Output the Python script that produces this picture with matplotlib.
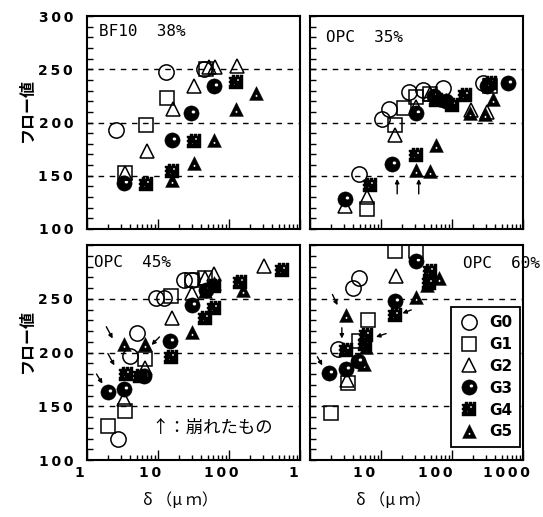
import numpy as np
import matplotlib
matplotlib.use("Agg")
import matplotlib.pyplot as plt
from matplotlib.path import Path
from matplotlib.markers import MarkerStyle
from matplotlib.lines import Line2D
from matplotlib.ticker import LogLocator, MultipleLocator, NullFormatter, FuncFormatter
from matplotlib.transforms import ScaledTranslation

plt.rcParams['font.family'] = ['DejaVu Sans', 'Noto Sans CJK JP']

# ---------------- data: delta (um) and flow value per group ----------------
# BF10 38%
BF38_G0_X = [2.6, 13, 45]
BF38_G0_Y = [193, 247, 250]
BF38_G1_X = [3.4, 6.7, 13.4, 48]
BF38_G1_Y = [153, 198, 223, 250]
BF38_G2_X = [3.4, 6.9, 16.5, 32.6, 52, 64.5, 130]
BF38_G2_Y = [153, 173.5, 213, 234, 252, 252, 253]
BF38_G3_X = [3.3, 16, 29.4, 62]
BF38_G3_Y = [143, 183.6, 209, 234]
BF38_G4_X = [6.8, 15.7, 32.6, 124]
BF38_G4_Y = [142, 154, 183, 238]
BF38_G5_X = [15.8, 32, 62, 124, 243]
BF38_G5_Y = [146, 162, 184, 213, 228]

# OPC 35%
OPC35_G0_X = [4.9, 10.4, 12.9, 25, 39, 75, 276]
OPC35_G0_Y = [152, 203, 213, 229, 230.5, 232, 237]
OPC35_G1_X = [6.3, 16, 21.4, 31.4, 48.5, 343]
OPC35_G1_Y = [119, 198, 214, 224, 227, 234]
OPC35_G2_X = [3.1, 6.3, 16, 31.4, 48.5, 185, 308]
OPC35_G2_Y = [121.5, 130, 188, 215, 227, 212, 210]
OPC35_G3_X = [3.1, 14.4, 30.7, 55, 83, 308, 624]
OPC35_G3_Y = [128, 161, 209, 225, 220, 234, 237]
OPC35_G4_X = [6.9, 31.4, 60, 100, 152, 343]
OPC35_G4_Y = [141, 169.5, 221, 216, 226, 237]
OPC35_G5_X = [31.4, 48.5, 59, 83, 178, 290, 383]
OPC35_G5_Y = [155, 154.5, 179, 221, 209, 208, 222]

# OPC 45%
OPC45_G0_X = [2.7, 5.1, 4.0, 9.5, 12.3, 23, 30]
OPC45_G0_Y = [120, 218, 197, 250.6, 250.6, 267, 267]
OPC45_G1_X = [2.0, 3.4, 6.6, 15.2, 30, 45.5]
OPC45_G1_Y = [132, 146, 194, 253, 267, 269.5]
OPC45_G2_X = [3.3, 6.6, 16.0, 30, 45.5, 62, 310]
OPC45_G2_Y = [157, 186, 232, 255, 269.5, 272.6, 280.5]
OPC45_G3_X = [2.0, 3.3, 6.4, 14.9, 30, 48]
OPC45_G3_Y = [163, 166, 178, 210.4, 244, 258.5]
OPC45_G4_X = [3.5, 5.6, 15.2, 45.5, 62, 62, 144, 563]
OPC45_G4_Y = [180, 178, 196, 232, 241, 261.7, 266, 277]
OPC45_G5_X = [3.3, 6.6, 30, 45.5, 62, 160]
OPC45_G5_Y = [208, 208, 219, 257, 264.8, 258.5]

# OPC 60%
OPC60_G0_X = [4.9, 4.0, 2.5]
OPC60_G0_Y = [269.5, 260, 203]
OPC60_G1_X = [1.96, 16, 31.4, 6.5, 4.9, 3.4]
OPC60_G1_Y = [143.8, 294.7, 294.7, 230, 211, 172]
OPC60_G2_X = [3.3, 16.3]
OPC60_G2_Y = [174, 271]
OPC60_G3_X = [1.86, 3.2, 4.8, 15.5, 30.7]
OPC60_G3_Y = [181, 185, 192.5, 247.5, 285.3]
OPC60_G4_X = [3.2, 6.1, 6.0, 15.5, 48.5, 47]
OPC60_G4_Y = [202, 216, 208, 235, 275.8, 264.8]
OPC60_G5_X = [3.2, 5.8, 6.1, 31.4, 44.5, 65.6]
OPC60_G5_Y = [235, 189, 205, 252, 263, 269.5]

GROUPS = ['G0', 'G1', 'G2', 'G3', 'G4', 'G5']
PANEL_TITLES = ['BF10  38%', 'OPC  35%', 'OPC  45%', 'OPC  60%']

PANELS = [
    [(BF38_G0_X, BF38_G0_Y), (BF38_G1_X, BF38_G1_Y), (BF38_G2_X, BF38_G2_Y),
     (BF38_G3_X, BF38_G3_Y), (BF38_G4_X, BF38_G4_Y), (BF38_G5_X, BF38_G5_Y)],
    [(OPC35_G0_X, OPC35_G0_Y), (OPC35_G1_X, OPC35_G1_Y), (OPC35_G2_X, OPC35_G2_Y),
     (OPC35_G3_X, OPC35_G3_Y), (OPC35_G4_X, OPC35_G4_Y), (OPC35_G5_X, OPC35_G5_Y)],
    [(OPC45_G0_X, OPC45_G0_Y), (OPC45_G1_X, OPC45_G1_Y), (OPC45_G2_X, OPC45_G2_Y),
     (OPC45_G3_X, OPC45_G3_Y), (OPC45_G4_X, OPC45_G4_Y), (OPC45_G5_X, OPC45_G5_Y)],
    [(OPC60_G0_X, OPC60_G0_Y), (OPC60_G1_X, OPC60_G1_Y), (OPC60_G2_X, OPC60_G2_Y),
     (OPC60_G3_X, OPC60_G3_Y), (OPC60_G4_X, OPC60_G4_Y), (OPC60_G5_X, OPC60_G5_Y)],
]

# collapsed specimens: arrows (tail -> tip) in data coordinates
ARROWS_35 = [((16.9, 133), (16.9, 147)), ((34, 133), (34, 147))]
ARROWS_45 = [((1.87, 224), (2.3, 213)), ((1.97, 199), (2.43, 188)),
             ((1.36, 180), (1.65, 171)), ((10.5, 214.5), (8.1, 207))]
ARROWS_60 = [((2.07, 254), (2.44, 244)), ((2.81, 223), (2.81, 213)),
             ((1.27, 196), (1.49, 188)), ((11.8, 217.6), (8.5, 214.5)),
             ((26.7, 239.6), (20, 236.5))]


# ---------------- custom markers ----------------
def ring(cx, cy, r, n=40, cw=False):
    a = np.linspace(0, 2 * np.pi, n, endpoint=False)
    if cw:
        a = a[::-1]
    v = np.column_stack([cx + r * np.cos(a), cy + r * np.sin(a)])
    return Path(np.vstack([v, v[:1]]), closed=True)


def poly(verts):
    v = np.asarray(verts, float)
    return Path(np.vstack([v, v[:1]]), closed=True)


# sphere: black disc with a small highlight
sphere = Path.make_compound_path(ring(0, 0, 1.0), ring(0.25, 0.2, 0.24, 20, cw=True))
# solid triangle with a pale dot
tri_solid = Path.make_compound_path(
    poly([(-1, -1), (1, -1), (0, 1)]), ring(0.0, -0.35, 0.17, 16, cw=True))
# notched square
notched = Path.make_compound_path(
    poly([(-1, -1), (1, -1), (1, 1), (0.6, 1), (0.6, 0.78), (0.4, 0.78), (0.4, 1),
          (0.0, 1), (0.0, 0.78), (-0.2, 0.78), (-0.2, 1), (-0.6, 1), (-0.6, 0.78),
          (-1, 0.78), (-1, 0.45), (-0.8, 0.45), (-0.8, 0.2), (-1, 0.2), (-1, -0.15),
          (-0.8, -0.15), (-0.8, -0.4), (-1, -0.4)]),
    poly([(0.2, 0.2), (0.2, 0.38), (0.38, 0.38), (0.38, 0.2)]),
    poly([(-0.35, -0.45), (-0.35, -0.3), (-0.2, -0.3), (-0.2, -0.45)]))

STYLES = [
    dict(marker='o', ms=11, mfc='none', mec='black', mew=1.1),
    dict(marker='s', ms=9.5, mfc='none', mec='black', mew=1.1),
    dict(marker='^', ms=10, mfc='none', mec='black', mew=1.1),
    dict(marker=MarkerStyle(sphere), ms=11, mfc='black', mec='black', mew=0.3),
    dict(marker=MarkerStyle(notched), ms=10, mfc='black', mec='black', mew=0.3),
    dict(marker=MarkerStyle(tri_solid), ms=10, mfc='black', mec='black', mew=0.3),
]

# ---------------- figure ----------------
fig = plt.figure(figsize=(5.43, 5.17), dpi=100)
W, H = 543.0, 517.0
boxes = [(87, 16, 213, 213), (310, 16, 213, 213), (87, 245, 213, 215), (310, 245, 213, 215)]
axes = []
for (x0, y0, w, h) in boxes:
    axes.append(fig.add_axes([x0 / W, 1 - (y0 + h) / H, w / W, h / H]))

TICKFONT = dict(family='DejaVu Sans', weight='bold', size=10)
THIN = '\u2009'


def spaced(v):
    return THIN.join(str(int(v)))


for i, ax in enumerate(axes):
    ax.set_xscale('log')
    ax.set_xlim(1, 1000)
    ax.set_ylim(100, 300)
    ax.xaxis.set_major_locator(LogLocator(base=10))
    ax.xaxis.set_minor_locator(LogLocator(base=10, subs=np.arange(2, 10)))
    ax.xaxis.set_major_formatter(NullFormatter())
    ax.xaxis.set_minor_formatter(NullFormatter())
    ax.yaxis.set_major_locator(MultipleLocator(50))
    ax.yaxis.set_minor_locator(MultipleLocator(10))
    ax.tick_params(which='both', direction='in', top=False, right=False, width=1)
    ax.tick_params(axis='x', which='major', length=7)
    ax.tick_params(axis='x', which='minor', length=3.5)
    ax.tick_params(axis='y', which='major', length=4)
    ax.tick_params(axis='y', which='minor', length=4)
    for s in ax.spines.values():
        s.set_linewidth(1.5)

    if i % 2 == 0:
        top_lab = 300 if i == 0 else 250
        ax.yaxis.set_major_formatter(
            FuncFormatter(lambda v, p, t=top_lab: spaced(v) if v <= t else ''))
        ax.tick_params(axis='y', pad=10, labelsize=10)
    else:
        ax.yaxis.set_major_formatter(NullFormatter())

    for gy in (150, 200, 250):
        ax.axhline(gy, color='black', lw=1.0, ls=(0, (4, 4)), zorder=1)

    for (xs, ys), st in zip(PANELS[i], STYLES):
        ax.plot(xs, ys, ls='none', zorder=3, **st)

# y tick label font
for ax in (axes[0], axes[2]):
    for lab in ax.get_yticklabels():
        lab.set_fontweight('bold')
        lab.set_family('DejaVu Sans')

# x tick labels under the lower panels
for ax, vals, dx in ((axes[2], [1, 10, 100], -8), (axes[3], [1, 10, 100, 1000], -17)):
    tr = ax.get_xaxis_transform() + ScaledTranslation(dx / 100, -13 / 100, fig.dpi_scale_trans)
    for v in vals:
        ax.text(v, 0, spaced(v), transform=tr, ha='center', va='center',
                clip_on=False, **TICKFONT)

# panel titles
title_kw = dict(family='DejaVu Sans Mono', size=11.5, va='center')
axes[0].text(0.055, 0.925, PANEL_TITLES[0], transform=axes[0].transAxes, ha='left', **title_kw)
axes[1].text(0.075, 0.9, PANEL_TITLES[1], transform=axes[1].transAxes, ha='left', **title_kw)
axes[2].text(0.035, 0.92, PANEL_TITLES[2], transform=axes[2].transAxes, ha='left', **title_kw)
axes[3].text(1.08, 0.915, PANEL_TITLES[3], transform=axes[3].transAxes, ha='right',
             clip_on=False, **title_kw)

# arrows marking collapsed specimens
arrow_kw = dict(arrowstyle='-|>', lw=1.0, color='black', mutation_scale=6,
                shrinkA=0, shrinkB=0)
for ax, arrows in ((axes[1], ARROWS_35), (axes[2], ARROWS_45), (axes[3], ARROWS_60)):
    for tail, tip in arrows:
        ax.annotate('', xy=tip, xytext=tail, arrowprops=arrow_kw, zorder=4)

axes[2].text(8.0, 130, '↑：崩れたもの', ha='left', va='center', fontsize=12.5,
             family=['Noto Sans CJK JP', 'DejaVu Sans'])

# legend
handles = [Line2D([], [], ls='none', **st) for st in STYLES]
leg = axes[3].legend(handles, GROUPS, loc='lower right', bbox_to_anchor=(0.986, 0.06),
                     borderaxespad=0, frameon=True, fancybox=False, edgecolor='black',
                     framealpha=1, labelspacing=0.45, handlelength=1.4,
                     handletextpad=0.6, borderpad=0.5,
                     prop=dict(family='DejaVu Sans', weight='bold', size=11))
leg.get_frame().set_linewidth(1.3)
leg.set_zorder(10)

# axis titles
ylab_kw = dict(rotation=90, ha='center', va='center', fontsize=11.5, weight='bold',
               family=['Noto Sans CJK JP', 'DejaVu Sans'])
fig.text(27 / W, 1 - 110 / H, 'フロー値', **ylab_kw)
fig.text(27 / W, 1 - 341 / H, 'フロー値', **ylab_kw)
xlab_kw = dict(ha='center', va='center', fontsize=11.5,
               family=['Noto Sans CJK JP', 'DejaVu Sans'])
fig.text(180 / W, 1 - 501 / H, 'δ （μ ｍ）', **xlab_kw)
fig.text(393 / W, 1 - 501 / H, 'δ （μ ｍ）', **xlab_kw)

fig.savefig('out.png', dpi=100)
